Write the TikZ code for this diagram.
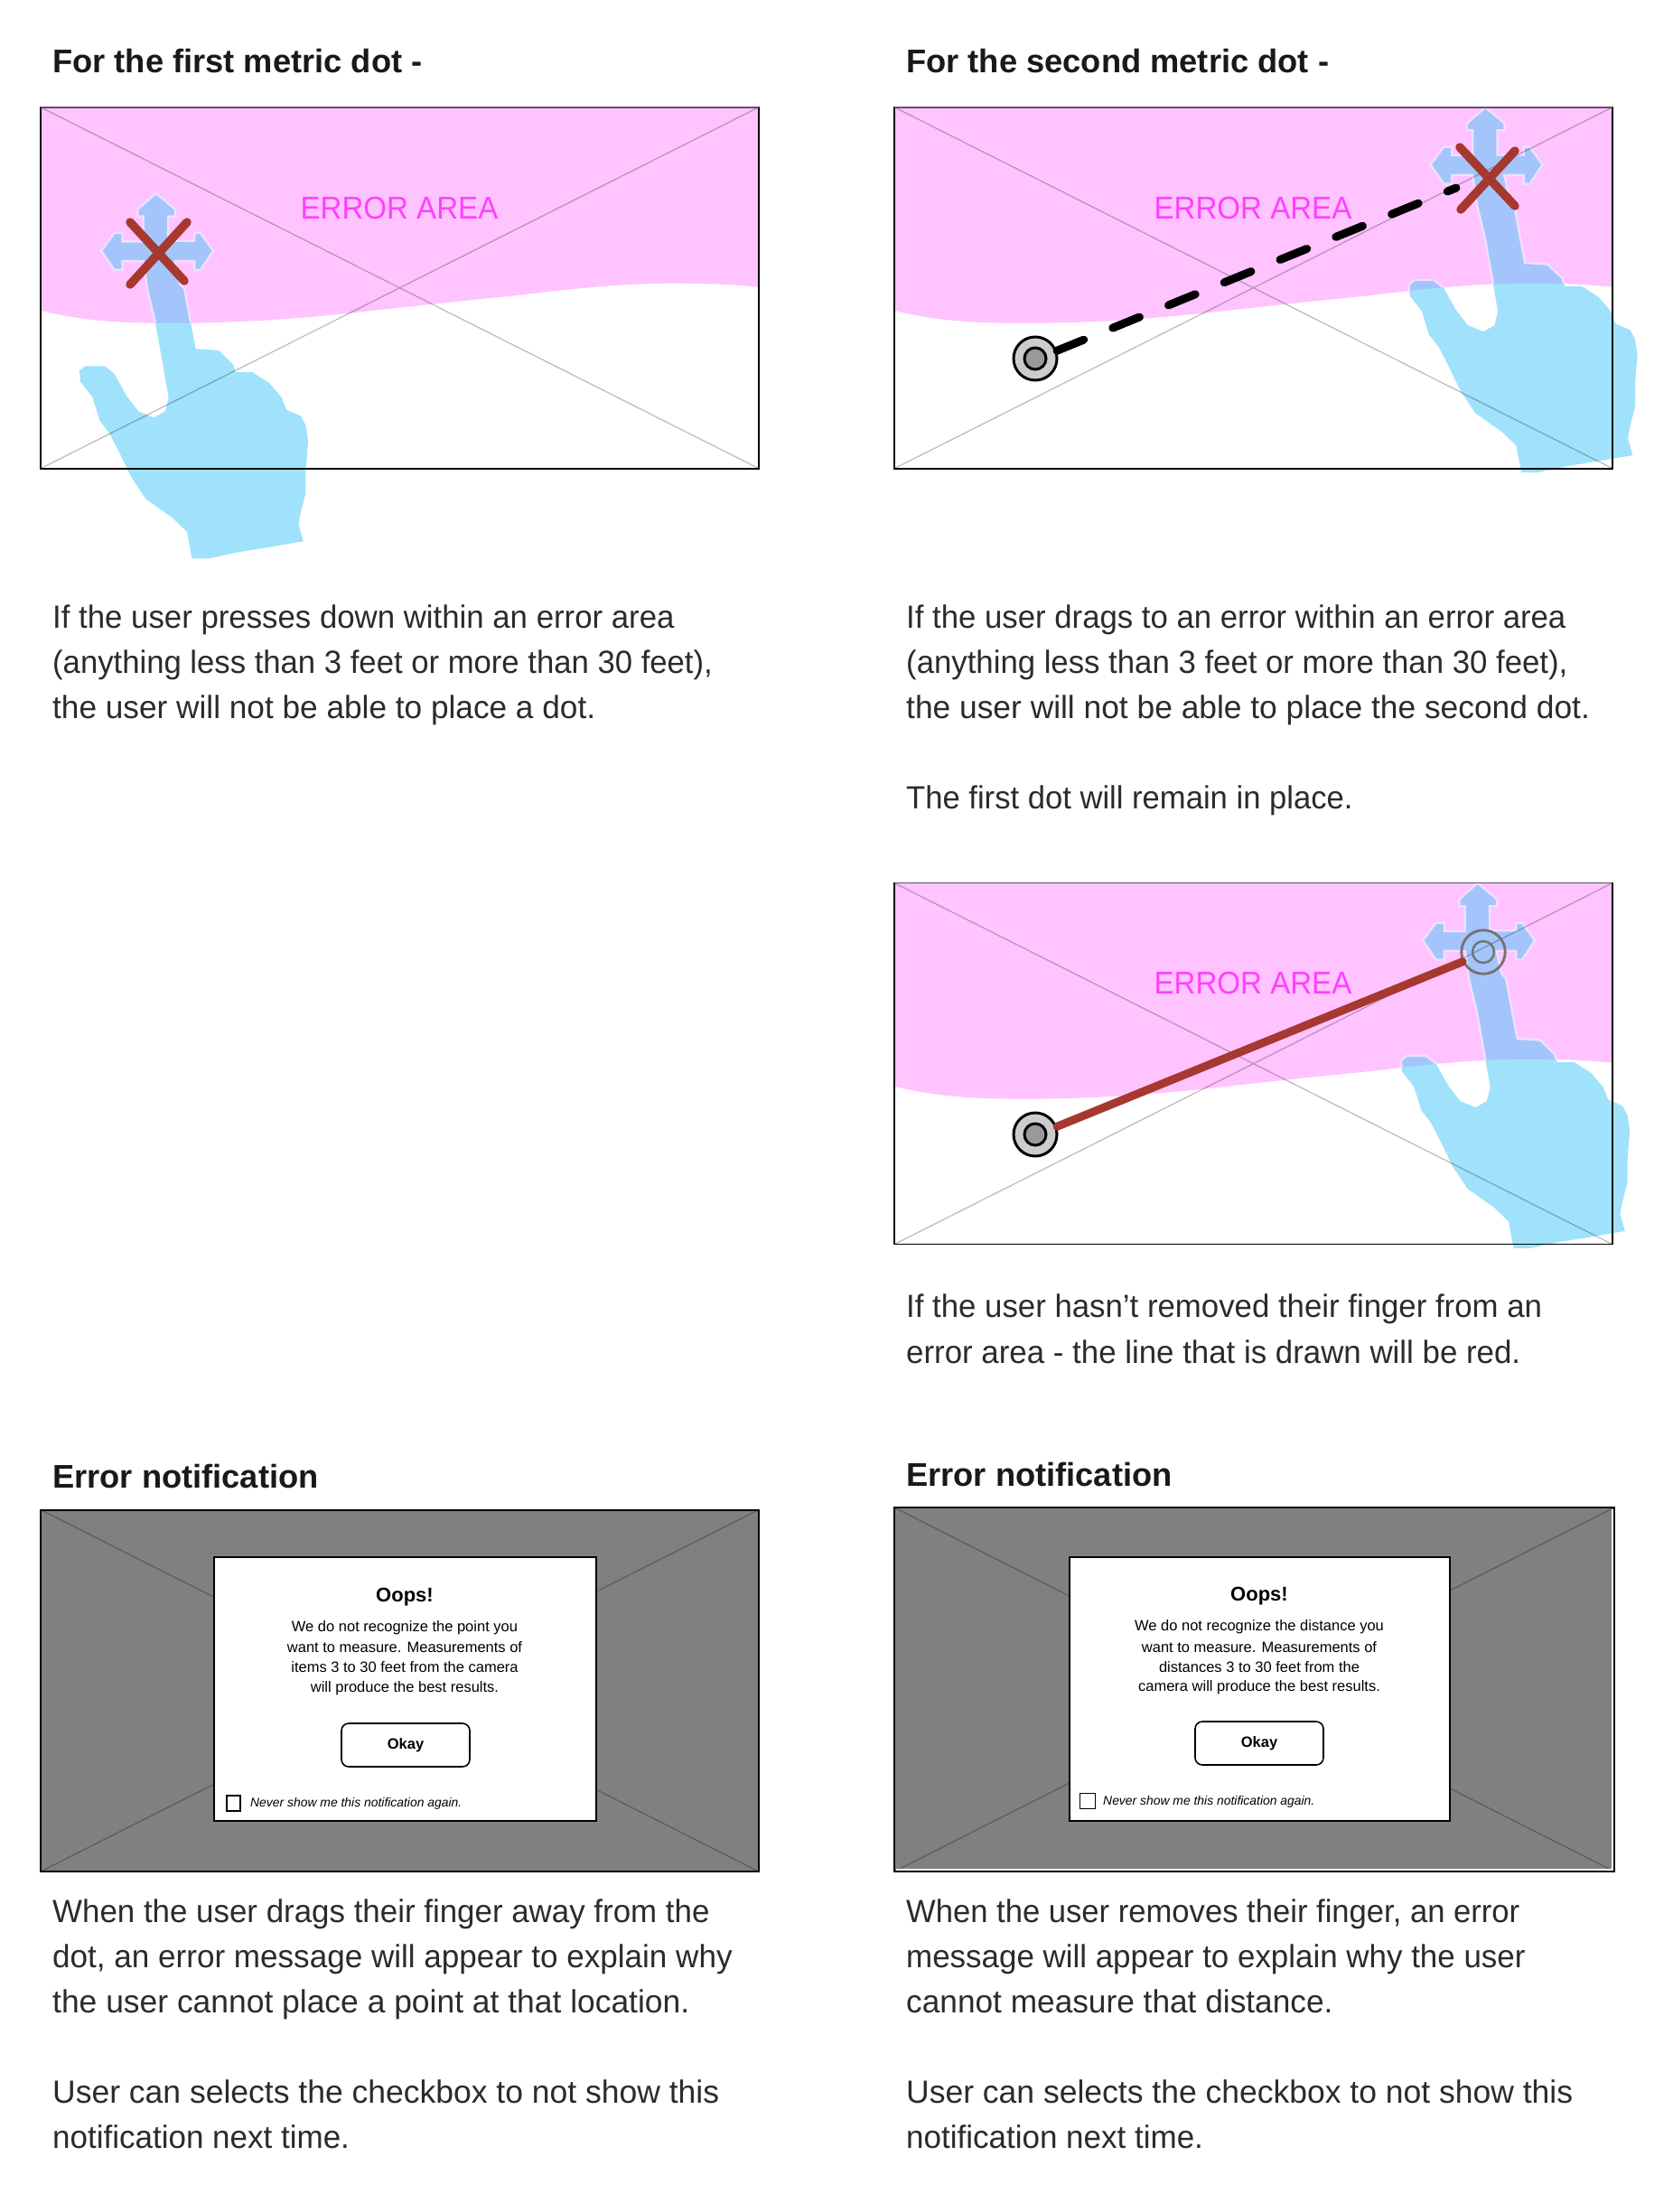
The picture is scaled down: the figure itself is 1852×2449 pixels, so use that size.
\documentclass[tikz,border=0pt]{standalone}
\usepackage{fontspec}
\setmainfont{Liberation Sans}
\definecolor{pinkarea}{HTML}{FFC3FF}
\definecolor{handblue}{HTML}{A0E2FB}
\definecolor{handpink}{HTML}{A3C5FB}
\definecolor{halo}{HTML}{EFE0FF}
\definecolor{errred}{HTML}{A63830}
\definecolor{errtext}{HTML}{FF40FF}
\definecolor{diagdark}{HTML}{5C5C5C}
\definecolor{greyout}{HTML}{808080}
\definecolor{bodyink}{HTML}{2B2B2B}
\tikzset{
  titletext/.style={anchor=base west,inner sep=0pt,font=\fontsize{36.3}{40}\selectfont\bfseries,text=black!90},
  bodytext/.style={anchor=base west,inner sep=0pt,font=\fontsize{35.5}{40}\selectfont,text=bodyink,transform shape},
  errlabel/.style={inner sep=0pt,font=\fontsize{35}{40}\selectfont,text=errtext,xscale=0.945,transform shape},
  frameline/.style={draw=black,line width=1.6pt},
  diagline/.style={draw=black,draw opacity=0.27,line width=1.2pt},
  crossmark/.style={draw=errred,line width=9.5pt,line cap=round},
  dotouter/.style={circle,draw=black,line width=3pt,fill=black!20,minimum size=48pt,inner sep=0pt},
  dotinner/.style={circle,draw=black,line width=3pt,fill=black!40,minimum size=24pt,inner sep=0pt},
  dlgbox/.style={draw=black,fill=white,line width=2pt},
  dlghead/.style={inner sep=0pt,font=\fontsize{22}{24}\selectfont\bfseries},
  dlgbody/.style={inner sep=0pt,font=\fontsize{16.5}{20}\selectfont},
  dlgbutton/.style={draw=black,fill=white,line width=1.6pt,rounded corners=8pt,inner sep=0pt,font=\fontsize{16.5}{20}\selectfont\bfseries},
  dlgcheck/.style={draw=black,fill=white,line width=1.4pt,inner sep=0pt},
  dlgnote/.style={anchor=west,inner sep=0pt,font=\fontsize{13.9}{16}\selectfont\itshape}
}
\newcommand{\wavepath}{(0,0) -- (0,225) .. controls (50,238) and (100,239) .. (145,239) .. controls (220,239) and (290,234) .. (360,226) .. controls (415,220) and (470,214) .. (521,209) .. controls (580,202) and (640,195) .. (698,195) .. controls (735,195) and (765,196) .. (795,199) -- (795,0) -- cycle}
\newcommand{\handpath}{(266,333) -- (306,385) -- (306,407) -- (291,407) -- (291,485) -- (345,485) -- (345,460) -- (358,460) -- (384,517) -- (358,578) -- (345,578) -- (345,550) -- (305,550) -- (315,620) -- (325,640) -- (338,750) -- (348,830) -- (395,835) -- (425,880) -- (430,905) -- (465,905) -- (500,940) -- (525,985) -- (535,1025) -- (565,1045) -- (575,1075) -- (580,1125) -- (575,1215) -- (575,1290) -- (565,1350) -- (560,1390) -- (570,1445) -- (495,1465) -- (435,1480) -- (375,1500) -- (340,1500) -- (330,1415) -- (300,1370) -- (245,1310) -- (215,1240) -- (190,1160) -- (170,1100) -- (150,1060) -- (135,985) -- (110,935) -- (108,900) -- (120,885) -- (160,885) -- (180,910) -- (205,980) -- (230,1030) -- (262,1050) -- (285,1030) -- (292,985) -- (280,880) -- (265,750) -- (248,640) -- (240,550) -- (197,550) -- (197,578) -- (180,578) -- (153,517) -- (180,460) -- (197,460) -- (197,487) -- (240,487) -- (240,407) -- (228,407) -- (228,385) -- cycle}
% frame x, frame y, hand shift x, hand shift y
\newcommand{\errscene}[4]{%
  \fill[pinkarea,shift={(#1,#2)}] \wavepath;
  \fill[handblue,shift={(30+#3,100+#4)},xscale=0.5365,yscale=0.3465] \handpath;
  \begin{scope}
    \clip[shift={(#1,#2)}] \wavepath;
    \filldraw[fill=handpink,draw=halo,line width=2.4pt,shift={(30+#3,100+#4)},xscale=0.5365,yscale=0.3465] \handpath;
  \end{scope}
  \draw[diagline,shift={(#1,#2)}] (0,0) -- (795,400) (795,0) -- (0,400);
  \draw[frameline,shift={(#1,#2)}] (0,0) rectangle (795,400);
  \draw[draw=black!60!pinkarea,line width=1.6pt,shift={(#1,#2)}] (0,0) -- (795,0);
}
\newcommand{\dlgframe}[4]{%
  \fill[greyout] (#1,#2) rectangle (#3,#4);
  \draw[diagdark,line width=1.2pt] (#1,#2) -- (#3,#4) (#3,#2) -- (#1,#4);
  \draw[black,line width=2pt] (#1,#2) rectangle (#3,#4);
}
\begin{document}
\begin{tikzpicture}[x=1pt,y=-1pt]
\useasboundingbox[fill=white] (0,0) rectangle (1852,2449);

% titles
\node[titletext] (titleA) at (58,81) {For the first metric dot -};
\node[titletext] (titleB) at (1003,81) {For the second metric dot -};
\node[titletext] (titleC) at (58,1647) {Error notification};
\node[titletext] (titleD) at (1003,1645) {Error notification};

% first frame
\errscene{45}{118.7}{0}{-1.4}
\node[errlabel] (errA) at (442,230) {ERROR AREA};
\draw[crossmark] (144,246) -- (204,311);
\draw[crossmark] (207,246) -- (144,315);

% second frame
\errscene{990}{118.7}{1471.5}{-96.7}
\node[errlabel] (errB) at (1387,230) {ERROR AREA};
\node[dotouter] (dotB) at (1146,397) {};
\node[dotinner] (dotBi) at (1146,397) {};
\coordinate (dragB) at (1612,208);
\draw[black,line width=9pt,line cap=round,dash pattern=on 32pt off 34.7pt] (dotB.20) -- (dragB);
\draw[crossmark] (1616,163) -- (1677,228);
\draw[crossmark] (1677,167) -- (1617,232);

% third frame
\errscene{990}{977.6}{1463}{762.2}
\node[errlabel] (errC) at (1387,1088) {ERROR AREA};
\node[dotouter] (dotC) at (1146,1256) {};
\node[dotinner] (dotCi) at (1146,1256) {};
\node[circle,draw=errred,line width=1pt,minimum size=50pt,inner sep=0pt] (endCr) at (1642,1054) {};
\node[circle,draw=black!55,line width=2.4pt,minimum size=48pt,inner sep=0pt] (endC) at (1642,1054) {};
\node[circle,draw=black!55,line width=2.4pt,minimum size=24pt,inner sep=0pt] (endCi) at (1642,1054) {};
\draw[errred,line width=9pt,line cap=round] (dotC.20) -- (endC.205);

% body text, upper left
\node[bodytext,xscale=0.98] (a1) at (58,695) {If the user presses down within an error area};
\node[bodytext,xscale=0.977] (a2) at (58,745) {(anything less than 3 feet or more than 30 feet),};
\node[bodytext,xscale=0.992] (a3) at (58,795) {the user will not be able to place a dot.};

% body text, upper right
\node[bodytext,xscale=0.979] (b1) at (1003,695) {If the user drags to an error within an error area};
\node[bodytext,xscale=0.979] (b2) at (1003,745) {(anything less than 3 feet or more than 30 feet),};
\node[bodytext,xscale=0.996] (b3) at (1003,795) {the user will not be able to place the second dot.};
\node[bodytext,xscale=0.975] (b4) at (1003,895) {The first dot will remain in place.};
\node[bodytext,xscale=0.98] (b5) at (1003,1458) {If the user hasn’t removed their finger from an};
\node[bodytext,xscale=0.982] (b6) at (1003,1509) {error area - the line that is drawn will be red.};

% left dialog
\dlgframe{45}{1671.5}{840}{2072}
\draw[dlgbox] (237,1724) rectangle (660,2016);
\node[dlghead] (oopsA) at (448,1768.5) {Oops!};
\node[dlgbody] (dA1) at (448,1802) {We do not recognize the point you};
\node[dlgbody] (dA2) at (448,1824) {want to measure. Measurements of};
\node[dlgbody] (dA3) at (448,1846) {items 3 to 30 feet from the camera};
\node[dlgbody] (dA4) at (448,1869) {will produce the best results.};
\node[dlgbutton,minimum width=142pt,minimum height=48pt] (okA) at (449,1932) {Okay};
\node[dlgcheck,minimum width=15pt,minimum height=17pt] (chkA) at (258.5,1996.5) {};
\node[dlgnote] (noteA) at (277,1996.5) {Never show me this notification again.};

% right dialog
\dlgframe{990}{1669}{1787}{2072}
\draw[white,line width=1.2pt] (1785,1671) -- (1785,2070) -- (992,2070);
\draw[dlgbox] (1184,1724) rectangle (1605,2016);
\node[dlghead] (oopsB) at (1394,1767) {Oops!};
\node[dlgbody] (dB1) at (1394,1801.5) {We do not recognize the distance you};
\node[dlgbody] (dB2) at (1394,1823.5) {want to measure. Measurements of};
\node[dlgbody] (dB3) at (1394,1845.5) {distances 3 to 30 feet from the};
\node[dlgbody] (dB4) at (1394,1868) {camera will produce the best results.};
\node[dlgbutton,minimum width=142pt,minimum height=48pt] (okB) at (1394,1930) {Okay};
\node[dlgcheck,minimum width=17pt,minimum height=17pt] (chkB) at (1204,1994) {};
\node[dlgnote] (noteB) at (1221,1994.5) {Never show me this notification again.};

% body text, lower left
\node[bodytext,xscale=0.983] (c1) at (58,2128.5) {When the user drags their finger away from the};
\node[bodytext,xscale=0.988] (c2) at (58,2178.5) {dot, an error message will appear to explain why};
\node[bodytext,xscale=0.998] (c3) at (58,2228.5) {the user cannot place a point at that location.};
\node[bodytext] (c4) at (58,2328.5) {User can selects the checkbox to not show this};
\node[bodytext,xscale=0.986] (c5) at (58,2378.5) {notification next time.};

% body text, lower right
\node[bodytext,xscale=0.975] (e1) at (1003,2128.5) {When the user removes their finger, an error};
\node[bodytext,xscale=0.984] (e2) at (1003,2178.5) {message will appear to explain why the user};
\node[bodytext,xscale=0.993] (e3) at (1003,2228.5) {cannot measure that distance.};
\node[bodytext] (e4) at (1003,2328.5) {User can selects the checkbox to not show this};
\node[bodytext,xscale=0.986] (e5) at (1003,2378.5) {notification next time.};
\end{tikzpicture}
\end{document}
